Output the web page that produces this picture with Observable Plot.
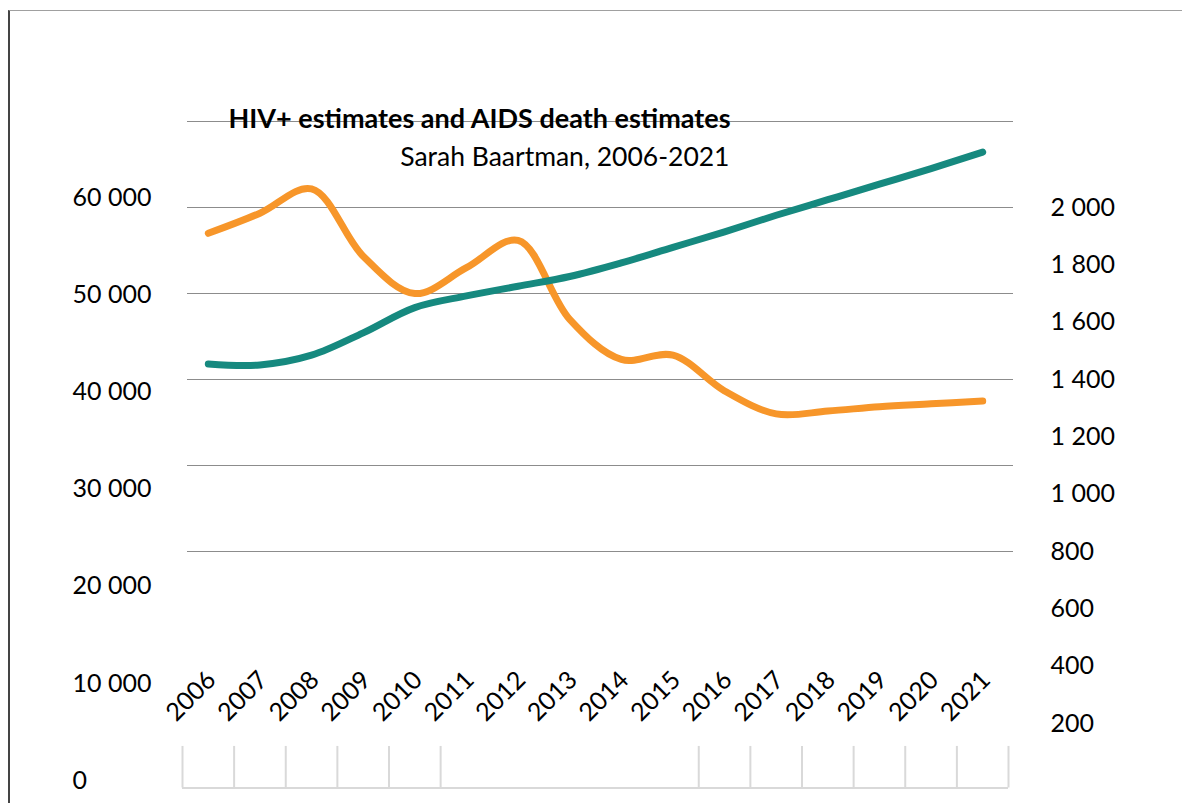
<!DOCTYPE html>
<html>
<head>
<meta charset="utf-8">
<script src="https://cdn.jsdelivr.net/npm/d3@7"></script>
<script src="https://cdn.jsdelivr.net/npm/@observablehq/plot@0.6"></script>
<style>
  html, body { margin: 0; padding: 0; background: #fff; }
  #wrap { position: relative; width: 1182px; height: 803px; overflow: hidden; }
  #border { position: absolute; left: 8px; top: 10px; right: 0; bottom: 0;
            border-left: 2px solid #444; border-top: 1px solid #a0a0a0; pointer-events: none; }
  svg { position: absolute; left: 0; top: 0; }
</style>
</head>
<body>
<div id="wrap"><div id="border"></div></div>
<script>
// ---- data ----
const years = [2006, 2007, 2008, 2009, 2010, 2011, 2012, 2013, 2014, 2015, 2016, 2017, 2018, 2019, 2020, 2021];
const hivEstimates = [42900, 42800, 43800, 46100, 48700, 49900, 50900, 51900, 53300, 54900, 56500, 58200, 59800, 61400, 63000, 64700];
const aidsDeaths = [1910, 1980, 2065, 1830, 1700, 1790, 1885, 1610, 1470, 1485, 1360, 1280, 1290, 1305, 1315, 1325];
const leftTicks = [0, 10000, 20000, 30000, 40000, 50000, 60000];
const rightTicks = [200, 400, 600, 800, 1000, 1200, 1400, 1600, 1800, 2000];
const gridValues = [800, 1100, 1400, 1700, 2000, 2300];
const boxEdges = [2005.5, 2006.5, 2007.5, 2008.5, 2009.5, 2010.5, 2015.5, 2016.5, 2017.5, 2018.5, 2019.5, 2020.5, 2021.5];
const title = "HIV+ estimates and AIDS death estimates";
const subtitle = "Sarah Baartman, 2006-2021";

// ratio between the left (HIV+) axis and the right (deaths) axis
const RATIO = 29.5;

const rows = years.map((y, i) => ({year: y, hiv: hivEstimates[i], deaths: aidsDeaths[i]}));
const fmt = d3.formatLocale({thousands: " ", grouping: [3], decimal: "."}).format(",");

const chart = Plot.plot({
  width: 1182,
  height: 803,
  marginLeft: 182,
  marginRight: 174,
  marginTop: 121,
  marginBottom: 80,
  style: {fontFamily: "Lato, 'Open Sans', sans-serif", fontSize: "25px", color: "#000", background: "transparent", overflow: "visible"},
  x: {domain: [2005.5, 2021.5], axis: null},
  y: {domain: [200, 2300], axis: null},
  marks: [
    Plot.ruleY(gridValues, {stroke: "#8c8c8c", strokeWidth: 1.2, dx: 5}),
    Plot.ruleX(boxEdges, {y1: 120, y2: -25, stroke: "#d9d9d9", strokeWidth: 2}),
    Plot.ruleY([-25], {x1: 2005.5, x2: 2021.5, stroke: "#d9d9d9", strokeWidth: 2}),
    Plot.line(rows, {x: "year", y: "deaths", stroke: "#f7962a", strokeWidth: 7, curve: "catmull-rom", strokeLinecap: "round"}),
    Plot.line(rows, {x: "year", y: d => d.hiv / RATIO, stroke: "#16897f", strokeWidth: 7, curve: "catmull-rom", strokeLinecap: "round"}),
    Plot.axisY(rightTicks, {anchor: "right", tickSize: 0, tickPadding: 42, tickFormat: fmt, fontSize: 25, label: null}),
    Plot.text(leftTicks, {y: d => d / RATIO, text: d => fmt(d), frameAnchor: "left", textAnchor: "start", dx: -110, fontSize: 25}),
    Plot.text(years, {x: d => d, text: d => String(d), frameAnchor: "bottom", rotate: -45, textAnchor: "end", lineAnchor: "bottom", dx: 9, dy: -42, fontSize: 25}),
    Plot.text([title], {text: d => d, frameAnchor: "top-right", textAnchor: "end", lineAnchor: "bottom", dx: -278, dy: 6, fontSize: 27, fontWeight: "bold"}),
    Plot.text([subtitle], {text: d => d, frameAnchor: "top-right", textAnchor: "end", lineAnchor: "bottom", dx: -279, dy: 44, fontSize: 26.5})
  ]
});
document.getElementById("wrap").appendChild(chart);
</script>
</body>
</html>
